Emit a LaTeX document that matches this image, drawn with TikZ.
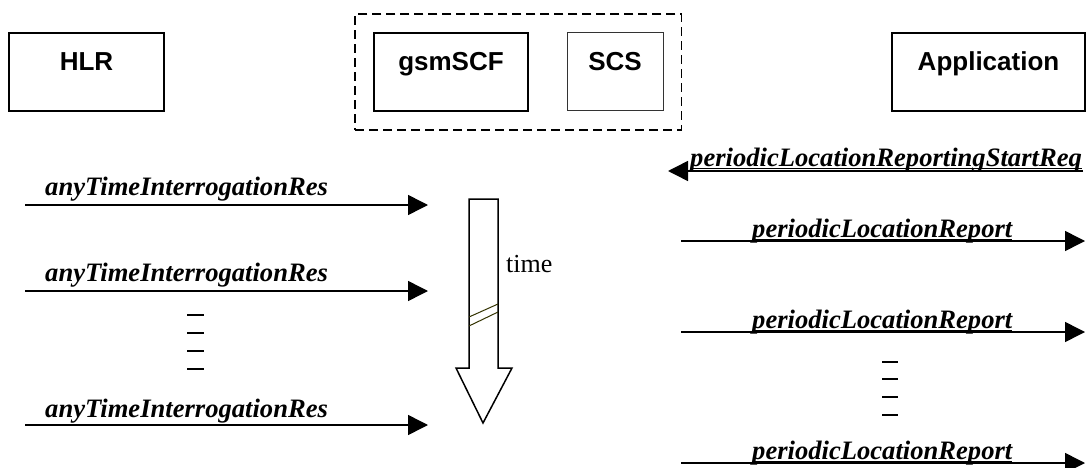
\documentclass[tikz,border=0pt]{standalone}
\usepackage{fontspec}
\setmainfont{Liberation Serif}
\setsansfont{Liberation Sans}
\usetikzlibrary{arrows.meta,fit}
\definecolor{slashcol}{RGB}{51,51,0}
\tikzset{
  entitybox/.style={draw=black, line width=1.5pt, inner sep=0pt, text height=38pt, text depth=40pt, font=\sffamily\bfseries\fontsize{26}{30}\selectfont},
  thinbox/.style={entitybox, draw=black!80, line width=1.0pt},
  groupbox/.style={draw=black, line width=1.6pt, dash pattern=on 9pt off 5pt, inner sep=18pt},
  msgarrow/.style={line width=1.5pt, -{Triangle[length=20pt,width=20pt]}},
  msglabel/.style={inner sep=0pt, anchor=base west, font=\bfseries\itshape\fontsize{26.6}{30}\selectfont},
  gapmark/.style={line width=1.5pt},
  timearrow/.style={draw=black, fill=white, line width=1.5pt, line join=miter}
}

\begin{document}
\begin{tikzpicture}[x=1pt, y=-1pt]
  \useasboundingbox (0,0) rectangle (1086,468);
  % entities
  \node[entitybox, minimum width=155pt] (hlr) at (86.5,72) {HLR};
  \node[entitybox, minimum width=154pt] (gsmscf) at (451,72) {gsmSCF};
  \node[thinbox, minimum width=96pt] (scs) at (615,72) {SCS};
  \node[entitybox, minimum width=193pt] (app) at (988.5,72) {Application};
  \node[groupbox, fit=(gsmscf) (scs)] (group) {};

  % HLR -> gsmSCF
  \coordinate (lsA) at (25,205); \coordinate (leA) at (428,205);
  \coordinate (lsB) at (25,291); \coordinate (leB) at (428,291);
  \coordinate (lsC) at (25,425); \coordinate (leC) at (428,425);
  \draw[msgarrow] (lsA) -- (leA);
  \draw[msgarrow] (lsB) -- (leB);
  \draw[msgarrow] (lsC) -- (leC);
  \node[msglabel] (lmA) at (45,195) {anyTimeInterrogationRes};
  \node[msglabel] (lmB) at (45,281) {anyTimeInterrogationRes};
  \node[msglabel] (lmC) at (45,417) {anyTimeInterrogationRes};
  \foreach \y in {315,333,351,369}
    \draw[gapmark] (187,\y) -- (204,\y);

  % time arrow
  \draw[timearrow] (469,199) -- (498,199) -- (498,368) -- (512,368) -- (483,423) -- (456,368) -- (469,368) -- cycle;
  \draw[slashcol, line width=1pt] (469,317) -- (498,304);
  \draw[slashcol, line width=1pt] (469,326) -- (498,312);
  \node[inner sep=0pt, anchor=base west, font=\fontsize{26}{30}\selectfont] (time) at (506,272) {time};

  % Application <-> SCS
  \coordinate (rsA) at (1083,171); \coordinate (reA) at (668,171);
  \coordinate (rsB) at (681,241); \coordinate (reB) at (1085,241);
  \coordinate (rsC) at (681,332); \coordinate (reC) at (1085,332);
  \coordinate (rsD) at (681,463); \coordinate (reD) at (1085,463);
  \draw[msgarrow] (rsA) -- (reA);
  \draw[msgarrow] (rsB) -- (reB);
  \draw[msgarrow] (rsC) -- (reC);
  \draw[msgarrow] (rsD) -- (reD);
  \node[msglabel] (rmA) at (690,166) {periodicLocationReportingStartReq};
  \node[msglabel] (rmB) at (752,237) {periodicLocationReport};
  \node[msglabel] (rmC) at (752,328) {periodicLocationReport};
  \node[msglabel] (rmD) at (752,459) {periodicLocationReport};
  \foreach \m in {rmA,rmB,rmC,rmD}
    \draw[line width=1pt] ([yshift=-2pt]\m.base west) -- ([yshift=-2pt]\m.base east);
  \foreach \y in {362,379,397,415}
    \draw[gapmark] (882,\y) -- (898,\y);
\end{tikzpicture}
\end{document}
